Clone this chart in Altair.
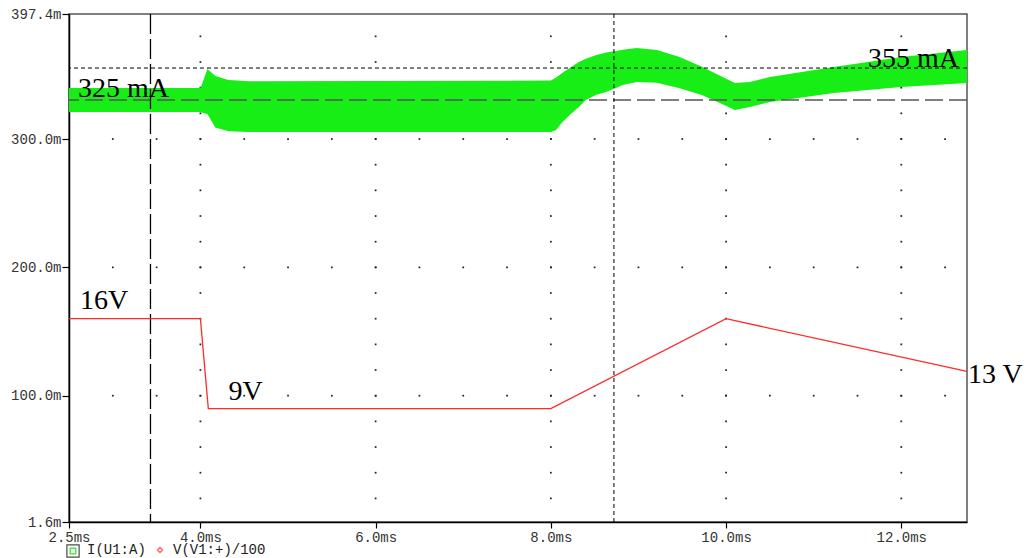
import altair as alt
import pandas as pd

# ---- data ----
# green band I(U1:A) envelope (mA-scale, shown as "m")
t_band = [2.5, 4.0, 4.03, 4.08, 4.17, 4.32, 4.55, 6.0, 8.0, 8.06, 8.13, 8.24, 8.32, 8.40,
          8.52, 8.63, 8.75, 8.82, 8.98, 9.21, 9.47, 9.73, 9.96, 10.10, 10.27, 10.50,
          11.23, 12.00, 12.75]
i_top = [339.7, 339.7, 345.0, 354.5, 349.1, 346.0, 345.0, 345.2, 345.5, 348.0, 351.4, 356.5,
         360.0, 362.5, 365.5, 367.5, 368.6, 369.5, 370.9, 369.4, 363.9, 356.1, 348.3, 343.6,
         344.4, 348.3, 356.1, 363.9, 369.4]
i_bot = [321.0, 321.0, 320.3, 319.5, 309.0, 306.0, 305.5, 305.5, 305.5, 307.0, 313.0, 320.3,
         325.0, 330.4, 334.5, 336.6, 340.0, 342.1, 344.4, 343.8, 339.5, 334.0, 327.0, 322.6,
         324.9, 328.8, 335.8, 340.5, 343.6]

# red trace V(V1:+)/100
t_v = [2.5, 4.0, 4.09, 8.0, 10.0, 12.75]
v_scaled = [160.0, 160.0, 90.0, 90.0, 160.0, 119.0]

x_ticks = [2.5, 4.0, 6.0, 8.0, 10.0, 12.0]
y_ticks = [1.6, 100.0, 200.0, 300.0, 397.4]
x_dom = [2.5, 12.75]
y_dom = [1.6, 397.4]

cursor_long_t = [3.43]
cursor_short_t = [8.72]
level_long = [330.4]
level_short = [355.3]

grid_x_major = [4.0, 6.0, 8.0, 10.0, 12.0]
grid_y_major = [100.0, 200.0, 300.0]
grid_x_minor = [3.0, 3.5, 4.0, 4.5, 5.0, 5.5, 6.0, 6.5, 7.0, 7.5, 8.0, 8.5, 9.0, 9.5,
                10.0, 10.5, 11.0, 11.5, 12.0, 12.5]
grid_y_minor = [20, 40, 60, 80, 100, 120, 140, 160, 180, 200, 220, 240, 260, 280, 300,
                320, 340, 360, 380]

ann_text = ["325 mA", "355 mA", "16V", "9V", "13 V"]
ann_t = [2.603, 11.62, 2.626, 4.32, 12.762]
ann_v = [332.7, 356.1, 167.6, 96.7, 109.9]

legend_text = ["I(U1:A)", "V(V1:+)/100"]

# ---- tables ----
band_df = pd.DataFrame({"t": t_band, "v": i_top, "v2": i_bot})
v_df = pd.DataFrame({"t": t_v, "v": v_scaled})
dots = [{"t": x, "v": y} for x in grid_x_major for y in grid_y_minor] + \
       [{"t": x, "v": y} for y in grid_y_major for x in grid_x_minor]
dots_df = pd.DataFrame(dots)
ann_df = pd.DataFrame({"label": ann_text, "t": ann_t, "v": ann_v})

xs = alt.Scale(domain=x_dom, nice=False, zero=False)
ys = alt.Scale(domain=y_dom, nice=False, zero=False)

X = alt.X("t:Q", scale=xs, title=None,
          axis=alt.Axis(values=x_ticks, labelExpr="format(datum.value, '.1f') + 'ms'",
                        grid=False, tickSize=6, labelPadding=2, labelFlush=False,
                        labelOverlap=False))
Y = alt.Y("v:Q", scale=ys, title=None,
          axis=alt.Axis(values=y_ticks, labelExpr="format(datum.value, '.1f') + 'm'",
                        grid=False, tickSize=7, labelPadding=1, labelFlush=False,
                        labelOverlap=False))

grid = alt.Chart(dots_df).mark_square(size=3, color="#222222", opacity=1).encode(x=X, y=Y)

band = alt.Chart(band_df).mark_area(color="#16ee16", opacity=1, line=False).encode(
    x=X, y=Y, y2="v2:Q")

h_long = alt.Chart(pd.DataFrame({"v": level_long})).mark_rule(
    color="#555555", strokeWidth=1.5, strokeDash=[18, 6]).encode(y=alt.Y("v:Q", scale=ys))
h_short = alt.Chart(pd.DataFrame({"v": level_short})).mark_rule(
    color="#000000", strokeWidth=1, strokeDash=[4, 3]).encode(y=alt.Y("v:Q", scale=ys))
v_long = alt.Chart(pd.DataFrame({"t": cursor_long_t})).mark_rule(
    color="#000000", strokeWidth=1.3, strokeDash=[20, 5]).encode(x=alt.X("t:Q", scale=xs))
v_short = alt.Chart(pd.DataFrame({"t": cursor_short_t})).mark_rule(
    color="#000000", strokeWidth=1, strokeDash=[4, 3]).encode(x=alt.X("t:Q", scale=xs))

red = alt.Chart(v_df).mark_line(color="#ff2a2a", strokeWidth=1.3).encode(x=X, y=Y)

ann = alt.Chart(ann_df).mark_text(
    font="Liberation Serif", fontSize=28, color="#000000", align="left",
    baseline="alphabetic").encode(x=alt.X("t:Q", scale=xs), y=alt.Y("v:Q", scale=ys),
                                  text="label:N")

leg_y = 536
one = pd.DataFrame({"a": [0]})
leg_box = alt.Chart(one).mark_square(size=150, filled=False, stroke="#000000",
                                     strokeWidth=1.2).encode(x=alt.value(4), y=alt.value(leg_y + 1))
leg_in = alt.Chart(one).mark_square(size=30, filled=False, stroke="#00dd00",
                                    strokeWidth=1.5).encode(x=alt.value(4), y=alt.value(leg_y + 1))
leg_t1 = alt.Chart(one).mark_text(font="Liberation Mono", fontSize=14, color="#222222",
                                  align="left", baseline="middle", text=legend_text[0]
                                  ).encode(x=alt.value(18), y=alt.value(leg_y))
leg_dia = alt.Chart(one).mark_point(shape="diamond", size=25, filled=False, stroke="#ff3030",
                                    strokeWidth=1.5).encode(x=alt.value(91), y=alt.value(leg_y))
leg_t2 = alt.Chart(one).mark_text(font="Liberation Mono", fontSize=14, color="#222222",
                                  align="left", baseline="middle", text=legend_text[1]
                                  ).encode(x=alt.value(104), y=alt.value(leg_y))

chart = alt.layer(grid, band, h_long, h_short, v_long, v_short, red, ann,
                  leg_box, leg_in, leg_t1, leg_dia, leg_t2).properties(
    width=898, height=508,
    autosize=alt.AutoSizeParams(type="none"),
    padding={"left": 61, "top": 6, "right": 58, "bottom": 36},
    background="white",
).configure_view(stroke="#555555", strokeWidth=1.5).configure_axis(
    labelFont="Liberation Mono", labelFontSize=14, labelColor="#333333",
    domainColor="#000000", domainWidth=1.5, tickColor="#000000", tickWidth=1.2,
)

chart.save("out.html", embed_options={"renderer": "svg", "actions": False})
